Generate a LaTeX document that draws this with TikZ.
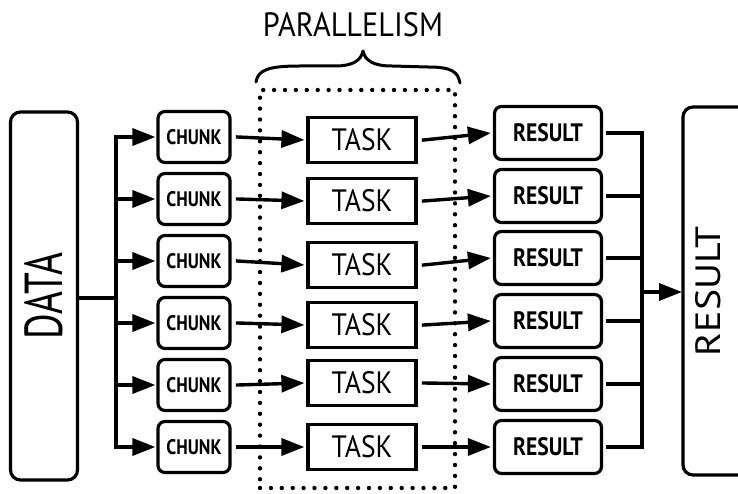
\documentclass[tikz,border=0pt]{standalone}
\usepackage{graphicx}
\usepackage{fontspec}
\setmainfont{PT Sans}
\usetikzlibrary{arrows.meta}
\tikzset{
  box/.style={draw, line width=3.2pt, rounded corners=7pt, inner sep=0pt},
  taskbox/.style={draw, line width=3.2pt, inner sep=0pt},
  ln/.style={line width=3.4pt, line cap=rect, line join=round},
  arr/.style={line width=3.4pt, line cap=rect, -{Triangle[length=23pt,width=17pt]}},
  dots/.style={draw, line width=4.4pt, line cap=round, dash pattern=on 0pt off 10.9pt},
}
\newcommand{\hw}[3]{\resizebox{#1pt}{#2pt}{#3}}
\begin{document}
\begin{tikzpicture}[x=1pt,y=-1pt]
\useasboundingbox (0,0) rectangle (738,494);
% parallelism region
\node[dots, minimum width=195pt, minimum height=398pt, inner sep=0pt] (pbox) at (357.5,289) {};
\draw[line width=3pt, line cap=round, line join=round]
  (256,82) .. controls (258,70) and (268,66) .. (300,66) -- (335,66)
  .. controls (352,66) and (361,61) .. (363,51)
  .. controls (365,61) and (374,66) .. (392,66) -- (428,67)
  .. controls (452,67) and (458,72) .. (460,83);
\node (par) at (353,25) {\hw{180}{24}{PARALLELISM}};
% data
\node[box, rounded corners=10pt, minimum width=67pt, minimum height=368pt] (data) at (44,296) {\rotatebox{90}{\hw{87}{38}{DATA}}};
% final result
\node (final) at (708,291) {\rotatebox{90}{\hw{130}{25}{RESULT}}};
\draw[line width=3.2pt, rounded corners=10pt] (760,107) -| (683,475) -- (760,475);
\coordinate (fin) at (683,292);
% rows
\foreach \i/\cy/\ty/\ry in {1/137/140/133, 2/199/201/196, 3/261/265/258, 4/323/325/321, 5/385/383/384, 6/447/447/447}{
  \node[box, minimum width=72pt, minimum height=51pt] (c\i) at (194,\cy) {\hw{55}{15}{\bfseries CHUNK}};
  \node[taskbox, minimum width=108pt, minimum height=45pt] (t\i) at (362,\ty) {\hw{61}{22}{TASK}};
  \node[box, minimum width=107pt, minimum height=53pt] (r\i) at (548,\ry) {\hw{70}{18}{\bfseries RESULT}};
  \coordinate (b\i) at (116,\cy);
  \draw[arr] (b\i) -- ([xshift=-1pt]c\i.west);
  \draw[arr] ([xshift=6pt]c\i.east) -- ([xshift=-2pt]t\i.west);
  \draw[arr] ([xshift=6pt]t\i.east) -- ([xshift=-2pt]r\i.west);
}
% data bus
\coordinate (dj) at (116,298);
\draw[ln] (data.east |- dj) -- (dj);
\draw[ln] (b1) -- (b6);
% result bus
\coordinate (rbus) at (642,0);
\foreach \i in {1,...,6}{
  \draw[ln] ([xshift=5pt]r\i.east) -- (r\i.east -| rbus);
}
\draw[ln] (r1.east -| rbus) -- (r6.east -| rbus);
\coordinate (rj) at (642,292);
\draw[arr] (rj) -- ([xshift=-1pt]fin);
\end{tikzpicture}
\end{document}
